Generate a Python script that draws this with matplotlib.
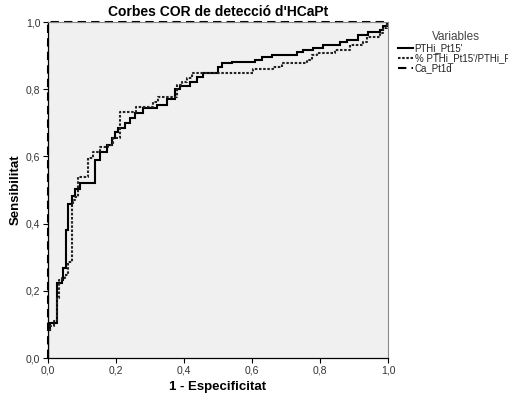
import matplotlib.pyplot as plt
from matplotlib.lines import Line2D

# -----------------------------
# Data
# (x = 1 - specificity at each step, y = sensitivity after the step)
# -----------------------------
pth_x = [0, 0, 0.006, 0.026, 0.040, 0.045, 0.052, 0.060, 0.070, 0.080, 0.094,
         0.138, 0.153, 0.173, 0.187, 0.197, 0.206, 0.226, 0.241, 0.256, 0.279,
         0.321, 0.350, 0.374, 0.388, 0.418, 0.438, 0.456, 0.500, 0.512, 0.541,
         0.609, 0.629, 0.659, 0.732, 0.750, 0.779, 0.809, 0.859, 0.879, 0.912,
         0.941, 0.976, 0.985, 0.997, 1.0]
pth_y = [0, 0.083, 0.103, 0.222, 0.232, 0.267, 0.381, 0.458, 0.482, 0.502, 0.520,
         0.589, 0.614, 0.634, 0.655, 0.673, 0.684, 0.700, 0.714, 0.729, 0.744,
         0.753, 0.770, 0.800, 0.810, 0.820, 0.837, 0.848, 0.867, 0.877, 0.882,
         0.887, 0.895, 0.903, 0.910, 0.917, 0.922, 0.932, 0.941, 0.946, 0.961,
         0.969, 0.976, 0.988, 1.0, 1.0]

pct_x = [0, 0, 0.006, 0.018, 0.026, 0.032, 0.042, 0.050, 0.060, 0.070, 0.074,
         0.079, 0.089, 0.119, 0.133, 0.153, 0.177, 0.191, 0.212, 0.259, 0.310,
         0.324, 0.379, 0.393, 0.408, 0.423, 0.603, 0.662, 0.688, 0.762, 0.776,
         0.791, 0.844, 0.888, 0.926, 0.938, 0.976, 0.985, 0.997, 1.0]
pct_y = [0, 0.080, 0.095, 0.110, 0.178, 0.232, 0.238, 0.247, 0.287, 0.455, 0.470,
         0.480, 0.540, 0.595, 0.614, 0.629, 0.634, 0.655, 0.733, 0.748, 0.763,
         0.778, 0.812, 0.822, 0.832, 0.847, 0.860, 0.867, 0.877, 0.887, 0.902,
         0.907, 0.917, 0.932, 0.941, 0.956, 0.966, 0.981, 1.0, 1.0]

ca_x = [0, 0, 1]
ca_y = [0, 1, 1]

ticks = [0.0, 0.2, 0.4, 0.6, 0.8, 1.0]
tick_labels = ["0,0", "0,2", "0,4", "0,6", "0,8", "1,0"]
series_names = ["PTHi_Pt15'", "% PTHi_Pt15'/PTHi_Pr", "Ca_Pt1d"]

plt.rcParams['font.family'] = ['Liberation Sans', 'DejaVu Sans']

# -----------------------------
# Create plot
# -----------------------------
fig = plt.figure(figsize=(5.08, 3.98), dpi=100)
ax = fig.add_axes([0.0945, 0.1005, 0.6693, 0.8442])
ax.set_facecolor('#f0f0f0')

ax.step(pth_x, pth_y, where='post', color='black', lw=1.5, solid_joinstyle='miter')
ax.step(pct_x, pct_y, where='post', color='#222222', lw=1.5, linestyle=(0, (1.2, 0.8)))
ax.plot(ca_x, ca_y, color='black', lw=1.5, linestyle=(0, (4, 2.5)), clip_on=False)

ax.set_xlim(0, 1)
ax.set_ylim(0, 1)
ax.set_xticks(ticks)
ax.set_xticklabels(tick_labels)
ax.set_yticks(ticks)
ax.set_yticklabels(tick_labels)
ax.tick_params(direction='out', length=3.5, width=0.8, labelsize=7.5,
               labelcolor='#333333', pad=2)

for side in ['left', 'bottom']:
    ax.spines[side].set_color('black')
    ax.spines[side].set_linewidth(0.9)
ax.spines['right'].set_color('#888888')
ax.spines['top'].set_color('#888888')

ax.set_title("Corbes COR de detecció d'HCaPt", fontsize=10, fontweight='bold', pad=4)
ax.set_xlabel("1 - Especificitat", fontsize=9.5, fontweight='bold', labelpad=4)
ax.set_ylabel("Sensibilitat", fontsize=9.5, fontweight='bold', labelpad=3)

# Legend
handles = [
    Line2D([], [], color='black', lw=1.5),
    Line2D([], [], color='#222222', lw=1.5, linestyle=(0, (1.2, 0.8))),
    Line2D([], [], color='black', lw=1.5, linestyle=(0, (4, 2.5))),
]
leg = fig.legend(handles, series_names, title='Variables', loc='upper left',
                 bbox_to_anchor=(0.775, 0.932), frameon=False, fontsize=7,
                 title_fontsize=8.5, handlelength=1.6, handletextpad=0.15,
                 labelspacing=0.0, handleheight=0.5, borderaxespad=0)
leg.get_title().set_color('#444444')
for t in leg.get_texts():
    t.set_color('#222222')

plt.savefig("out.png", dpi=100)
plt.close()
